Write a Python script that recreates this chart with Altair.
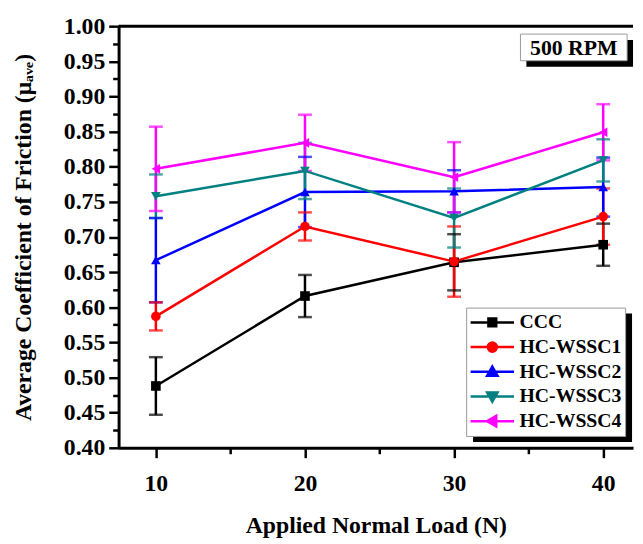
import altair as alt
import pandas as pd

# ---------------- data ----------------
loads = [10, 20, 30, 40]
series = ["CCC", "HC-WSSC1", "HC-WSSC2", "HC-WSSC3", "HC-WSSC4"]
colors = ["#000000", "#FF0000", "#0000FF", "#008080", "#FF00FF"]
shapes = ["square", "circle", "triangle-up", "triangle-down", "triangle-left"]

ccc = [0.488, 0.616, 0.664, 0.689]
ccc_err = [0.041, 0.030, 0.040, 0.030]
wssc1 = [0.587, 0.715, 0.665, 0.729]
wssc1_err = [0.020, 0.020, 0.050, 0.040]
wssc2 = [0.667, 0.764, 0.765, 0.771]
wssc2_err = [0.060, 0.050, 0.030, 0.042]
wssc3 = [0.758, 0.794, 0.727, 0.809]
wssc3_err = [0.031, 0.040, 0.042, 0.030]
wssc4 = [0.797, 0.834, 0.785, 0.849]
wssc4_err = [0.060, 0.040, 0.050, 0.040]

x_ticks = [10, 15, 20, 25, 30, 35, 40]
y_ticks = [0.400, 0.425, 0.450, 0.475, 0.500, 0.525, 0.550, 0.575, 0.600,
           0.625, 0.650, 0.675, 0.700, 0.725, 0.750, 0.775, 0.800, 0.825,
           0.850, 0.875, 0.900, 0.925, 0.950, 0.975, 1.000]
y_labels = ["0.40", "0.45", "0.50", "0.55", "0.60", "0.65", "0.70",
            "0.75", "0.80", "0.85", "0.90", "0.95", "1.00"]

x_title = "Applied Normal Load (N)"
y_title = "Average Coefficient of Friction (\u03bc\u2090\u1d65\u2091)"
note_text = "500 RPM"

# legend symbols: a line segment with the marker on it
legend_paths = [
    "M-1,0H1M-0.18,-0.18H0.18V0.18H-0.18Z",
    "M-1,0H1M-0.21,0A0.21,0.21 0 1,0 0.21,0A0.21,0.21 0 1,0 -0.21,0Z",
    "M-1,0H1M0,-0.24L0.24,0.18H-0.24Z",
    "M-1,0H1M0,0.24L0.24,-0.18H-0.24Z",
    "M-1,0H1M-0.24,0L0.18,-0.24V0.24Z",
]

# ---------------- table ----------------
vals = [ccc, wssc1, wssc2, wssc3, wssc4]
errs = [ccc_err, wssc1_err, wssc2_err, wssc3_err, wssc4_err]
rows = []
for si, name in enumerate(series):
    for li, load in enumerate(loads):
        m = vals[si][li]
        e = errs[si][li]
        rows.append({"load": load, "series": name, "marker": name, "order": si,
                     "mu": m, "lo": m - e, "hi": m + e})
df = pd.DataFrame(rows)

FONT = "Liberation Serif"
W, H = 521, 427

shape_expr = ""
color_expr = ""
for name, p, c in zip(series, legend_paths, colors):
    shape_expr += f"datum.value === '{name}' ? '{p}' : "
    color_expr += f"datum.value === '{name}' ? '{c}' : "
shape_expr += f"'{legend_paths[0]}'"
color_expr += "'black'"

major_list = "[" + ",".join(f"'{s}'" for s in y_labels) + "]"
y_major_test = f"indexof({major_list}, format(datum.value, '.2f')) >= 0"

legend = alt.Legend(
    title=None, orient="none", legendX=352, legendY=285,
    symbolType={"expr": shape_expr},
    symbolFillColor={"expr": color_expr},
    symbolStrokeColor={"expr": color_expr},
    symbolSize=1936, symbolStrokeWidth=2.5, symbolOpacity=1,
    clipHeight=24, rowPadding=1, padding=3, labelOffset=4,
    labelFont=FONT, labelFontSize=20, labelFontWeight="bold",
    labelColor="black", fillColor="white", strokeColor="#999999",
)
cscale = alt.Scale(domain=series, range=colors)
color = alt.Color("series:N", scale=cscale, legend=legend)

xenc = alt.X(
    "load:Q",
    scale=alt.Scale(domain=[7.5, 42.0], nice=False, zero=False),
    axis=alt.Axis(
        values=x_ticks, tickCount=40, format="d", labelOverlap=False,
        labelExpr="datum.value % 10 == 0 ? datum.label : ''",
        tickSize={"condition": {"test": "datum.value % 10 == 0", "value": 10}, "value": 6},
        title=x_title, labelPadding=14, titlePadding=19,
    ),
)
yscale = alt.Scale(domain=[0.4, 1.0], nice=False, zero=False)
yaxis = alt.Axis(
    values=y_ticks, tickCount=60, format=".2f", labelOverlap=False,
    labelExpr=f"{y_major_test} ? format(datum.value, '.2f') : ''",
    tickSize={"condition": {"test": y_major_test, "value": 10}, "value": 6},
    title=y_title, labelPadding=4, titlePadding=28,
)

base = alt.Chart(df)

err_rule = base.mark_rule(strokeWidth=2.5).encode(
    x=xenc,
    y=alt.Y("lo:Q", scale=yscale, axis=yaxis),
    y2="hi:Q",
    color=color,
)
cap_lo = base.mark_tick(orient="horizontal", size=14, thickness=2.5).encode(
    x="load:Q", y="lo:Q", color=color,
)
cap_hi = base.mark_tick(orient="horizontal", size=14, thickness=2.5).encode(
    x="load:Q", y="hi:Q", color=color,
)
lines = base.mark_line(strokeWidth=2.5).encode(
    x="load:Q", y="mu:Q", color=color, order="load:Q",
)
points = base.mark_point(filled=True, size=95, opacity=1).encode(
    x="load:Q", y="mu:Q", color=color,
    shape=alt.Shape("marker:N", scale=alt.Scale(range=shapes), legend=None),
)

one = pd.DataFrame({"label": [note_text]})
top_frame = alt.Chart(one).mark_rule(color="black", strokeWidth=3).encode(
    x=alt.value(0), x2=alt.value(W), y=alt.value(0)
)
legend_shadow = alt.Chart(one).mark_rect(color="black").encode(
    x=alt.value(359), x2=alt.value(520), y=alt.value(291), y2=alt.value(421)
)
note_shadow = alt.Chart(one).mark_rect(color="black").encode(
    x=alt.value(413), x2=alt.value(521), y=alt.value(14), y2=alt.value(41)
)
note_box = alt.Chart(one).mark_rect(fill="white", stroke="#999999", strokeWidth=1).encode(
    x=alt.value(407), x2=alt.value(515), y=alt.value(8), y2=alt.value(35)
)
note = alt.Chart(one).mark_text(
    font=FONT, fontSize=22, fontWeight="bold", color="black", baseline="middle", align="center"
).encode(x=alt.value(461), y=alt.value(22.5), text="label:N")

chart = alt.layer(
    err_rule, cap_lo, cap_hi, lines, points,
    top_frame, legend_shadow, note_shadow, note_box, note,
).properties(
    width=W, height=H,
    padding={"left": 112, "top": 15, "right": 2, "bottom": 94},
    autosize=alt.AutoSizeParams(type="none"),
).configure_view(stroke=None).configure_axis(
    grid=False, domainColor="black", domainWidth=3, tickColor="black", tickWidth=2.5,
    labelFont=FONT, labelFontSize=24, labelFontWeight="bold", labelColor="black",
    titleFont=FONT, titleFontSize=24, titleFontWeight="bold", titleColor="black",
    labelOverlap=False,
)

chart.save("out.html", embed_options={"renderer": "svg", "actions": False})
